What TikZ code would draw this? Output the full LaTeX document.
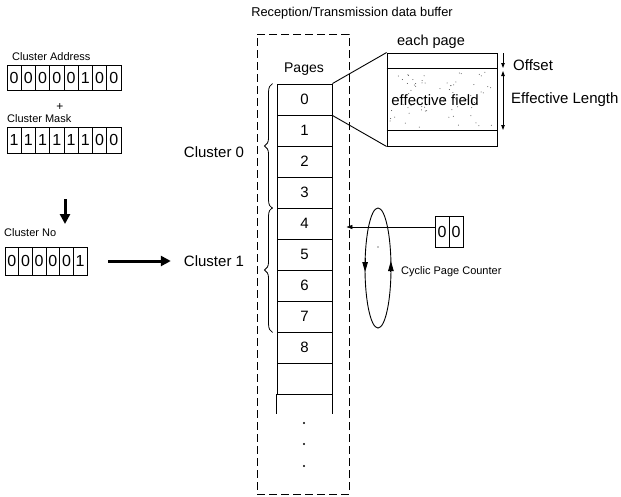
\documentclass[tikz,border=0pt]{standalone}
\usepackage{fontspec}
\setmainfont{Liberation Sans}
\usetikzlibrary{arrows.meta,decorations.pathreplacing}
\tikzset{
  bit/.style={draw, line width=0.8pt, inner sep=0pt, font=\fontsize{16}{16}\selectfont},
  pagebox/.style={draw, line width=0.9pt, minimum width=55pt, minimum height=31pt, inner sep=0pt, font=\fontsize{15}{15}\selectfont},
  lbl/.style={font=\fontsize{15}{15}\selectfont, inner sep=0pt},
  smalllbl/.style={font=\fontsize{11}{11}\selectfont, inner sep=0pt},
  bigarrow/.style={line width=3pt, -{Triangle[length=10pt,width=10pt]}},
  thinarrow/.style={line width=0.8pt, -{Triangle[length=6pt,width=4pt]}},
  dimarrow/.style={line width=0.8pt},
  cycarrow/.style={line width=0.9pt, -{Triangle[length=10pt,width=5.5pt]}},
}
% a row of bit cells: name, left x, centre y, cell width, cell height, digits
\newcommand{\bitrow}[6]{
\foreach \d [count=\i] in {#6} {
  \node[bit, minimum width=#4pt, minimum height=#5pt] (#1-\i) at ({#2+(\i-0.5)*#4}, #3) {\d};
}
}
\begin{document}
\begin{tikzpicture}[x=1pt,y=-1pt]
\useasboundingbox (0,0) rectangle (621,496);

\node[lbl, font=\fontsize{12.8}{13}\selectfont] (title) at (352,13) {Reception/Transmission data buffer};

% buffer
\node[draw, line width=0.9pt, dash pattern=on 8pt off 4pt, minimum width=92pt, minimum height=460pt] (buffer) at (303,264) {};
\node[lbl, font=\fontsize{14}{14}\selectfont] (pageslbl) at (304,69) {Pages};
\foreach \p [count=\i from 0] in {0,1,2,3,4,5,6,7,8,{}} {
  \node[pagebox] (page\i) at (304.5,{99.5+31*\i}) {\p};
}
\draw[line width=0.9pt] (page9.south west) -- ++(0,20);
\draw[line width=0.9pt] (page9.south east) -- ++(0,20);
\foreach \yy in {423,444,466} \fill (304,\yy) circle (1.1);

\draw[decorate, decoration={brace, amplitude=8pt}, line width=0.8pt] ([xshift=-4pt]page3.south west) -- ([xshift=-4pt]page0.north west);
\draw[decorate, decoration={brace, amplitude=8pt}, line width=0.8pt] ([xshift=-4pt]page7.south west) -- ([xshift=-4pt]page4.north west);
\node[lbl] (cl0) at (214,152) {Cluster 0};
\node[lbl] (cl1) at (214,261) {Cluster 1};

% each page
\node[draw, line width=0.9pt, minimum width=110pt, minimum height=93pt] (pg) at (442,99.5) {};
\draw[line width=0.9pt] ([yshift=-16pt]pg.north west) -- ([yshift=-16pt]pg.north east);
\draw[line width=0.9pt] ([yshift=16pt]pg.south west) -- ([yshift=16pt]pg.south east);
\draw[line width=0.9pt] (page0.north east) -- (pg.north west);
\draw[line width=0.9pt] (page0.south east) -- (pg.south west);
\pgfmathsetseed{11}
\foreach \k in {1,...,70} {
  \pgfmathsetmacro{\dx}{390+104*rnd}
  \pgfmathsetmacro{\dy}{72+56*rnd}
  \fill[black!70] (\dx,\dy) circle (0.5);
}
\node[lbl] (eff) at (435,100) {effective field};
\node[lbl, font=\fontsize{14.5}{15}\selectfont] (eachlbl) at (431,42) {each page};

\coordinate (offtop) at (503,53);
\coordinate (offmid) at (503,69);
\coordinate (offbot) at (503,130);
\draw[dimarrow, -{Triangle[length=5pt,width=3.5pt]}, shorten >=1pt] (offtop) -- (offmid);
\draw[dimarrow, {Triangle[length=5pt,width=3.5pt]}-{Triangle[length=5pt,width=3.5pt]}, shorten <=2pt] (offmid) -- (offbot);
\node[lbl, anchor=west] (offlbl) at (513,65) {Offset};
\node[lbl, anchor=west] (efflen) at (511,100) {Effective Length};

% page counter
\draw[line width=0.9pt] (378,268) ellipse (13 and 60);
\draw[cycarrow] (365.1,258) -- (365.1,272);
\draw[cycarrow] (390.9,272) -- (390.9,261);
\fill (378,247) circle (0.7);
\bitrow{cnt}{435}{231.5}{14}{31}{0,0}
\coordinate (cntin) at ([yshift=4.5pt]cnt-1.west);
\draw[thinarrow, shorten >=-3pt] (cntin) -- (cntin -| buffer.east);
\node[smalllbl, anchor=west] (cyclbl) at (401,272) {Cyclic Page Counter};

% cluster number
\node[smalllbl, anchor=west] (addrlbl) at (12,57) {Cluster Address};
\bitrow{addr}{7}{77.5}{14.25}{25}{0,0,0,0,0,1,0,0}
\node[lbl, font=\fontsize{12}{12}\selectfont] (plus) at (60,107) {+};
\node[smalllbl, anchor=west] (masklbl) at (7,119) {Cluster Mask};
\bitrow{mask}{7}{140}{14.25}{26}{1,1,1,1,1,1,0,0}
\coordinate (downtop) at (65,199);
\coordinate (downtip) at (65,224);
\draw[bigarrow] (downtop) -- (downtip);
\node[smalllbl, anchor=west] (nolbl) at (4,233) {Cluster No};
\bitrow{no}{5}{261}{13.67}{28}{0,0,0,0,0,1}
\draw[bigarrow, shorten <=21pt, shorten >=13pt] (no-6.east) -- (cl1.west);

\end{tikzpicture}
\end{document}
